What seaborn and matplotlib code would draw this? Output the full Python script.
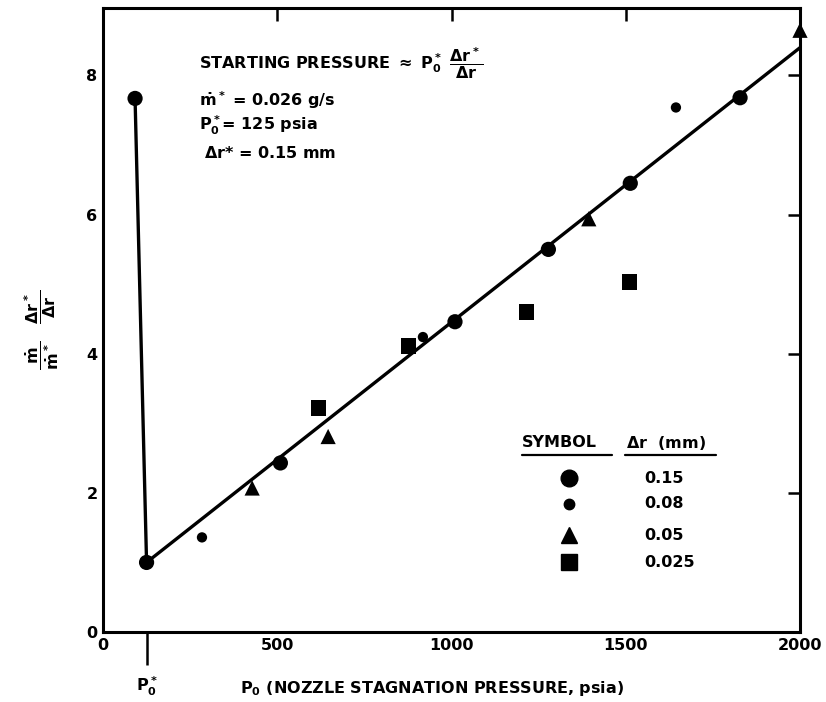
import matplotlib
matplotlib.use("Agg")
import matplotlib.pyplot as plt
import seaborn as sns
import pandas as pd
import numpy as np
from matplotlib import font_manager

# ---------------- data ----------------
dr_labels = ["0.15", "0.08", "0.05", "0.025"]

p0_015 = [92, 125, 509, 1010, 1278, 1513, 1828]
r_015 = [7.67, 1.0, 2.43, 4.46, 5.50, 6.45, 7.68]

p0_008 = [284, 918, 1644]
r_008 = [1.36, 4.24, 7.54]

p0_005 = [428, 646, 1394, 2000]
r_005 = [2.07, 2.81, 5.94, 8.65]

p0_0025 = [618, 877, 1216, 1510]
r_0025 = [3.22, 4.11, 4.60, 5.03]

fit_x = [92, 125, 2000]
fit_y = [7.67, 1.0, 8.4]

x_ticks = [0, 500, 1000, 1500, 2000]
y_ticks = [0, 2, 4, 6, 8]
P0_star = 125

# ---------------- style ----------------
sns.set_style("white")
try:
    font_manager.findfont("Liberation Sans Narrow", fallback_to_default=False)
    FAM = "Liberation Sans Narrow"
except Exception:
    FAM = "DejaVu Sans"
plt.rcParams["font.family"] = [FAM, "DejaVu Sans"]
plt.rcParams["font.weight"] = "bold"
plt.rcParams["text.color"] = "black"
plt.rcParams["axes.labelcolor"] = "black"
plt.rcParams["xtick.color"] = "black"
plt.rcParams["ytick.color"] = "black"
plt.rcParams["mathtext.fontset"] = "custom"
plt.rcParams["mathtext.rm"] = f"{FAM}:bold"
plt.rcParams["mathtext.it"] = f"{FAM}:bold"
plt.rcParams["mathtext.bf"] = f"{FAM}:bold"
plt.rcParams["mathtext.sf"] = f"{FAM}:bold"

FS = 13 if FAM != "DejaVu Sans" else 11.5

df = pd.concat([
    pd.DataFrame({"P0": p0_015, "ratio": r_015, "dr": dr_labels[0]}),
    pd.DataFrame({"P0": p0_008, "ratio": r_008, "dr": dr_labels[1]}),
    pd.DataFrame({"P0": p0_005, "ratio": r_005, "dr": dr_labels[2]}),
    pd.DataFrame({"P0": p0_0025, "ratio": r_0025, "dr": dr_labels[3]}),
], ignore_index=True)

markers = {"0.15": "o", "0.08": "o", "0.05": "^", "0.025": "s"}
sizes = {"0.15": 120, "0.08": 55, "0.05": 120, "0.025": 120}

fig = plt.figure(figsize=(8.26, 7.02), dpi=100)
ax = fig.add_axes([103 / 826, 1 - 632 / 702, (800 - 103) / 826, (632 - 8) / 702])

sns.lineplot(x=fit_x, y=fit_y, sort=False, estimator=None, color="black",
             linewidth=2.4, ax=ax, zorder=2)
sns.scatterplot(data=df, x="P0", y="ratio", style="dr", markers=markers,
                size="dr", sizes=sizes, color="black", edgecolor="black",
                linewidth=0, legend=False, ax=ax, zorder=3, clip_on=False)

ax.set_xlim(0, 2000)
ax.set_ylim(0, 8.97)
ax.set_xticks(x_ticks)
ax.set_yticks(y_ticks)
ax.set_xticklabels([str(v) for v in x_ticks], fontsize=FS, fontweight="bold")
ax.set_yticklabels([str(v) for v in y_ticks], fontsize=FS, fontweight="bold")
ax.tick_params(direction="in", length=9, width=1.8, top=True, right=True,
               labeltop=False, labelright=False, pad=4, colors="black")
for s in ax.spines.values():
    s.set_visible(True)
    s.set_linewidth(2.2)
    s.set_color("black")
ax.set_xlabel("")
ax.set_ylabel("")

# P0* tick below the axis
ax.vlines(P0_star, -0.48, 0, color="black", linewidth=1.8, clip_on=False)
ax.text(P0_star, -0.78, r"P$_0^*$", ha="center", va="center", fontsize=FS)

# axis labels
fig.text(240 / 826, 1 - 688 / 702, r"P$_0$ (NOZZLE STAGNATION PRESSURE, psia)",
         ha="left", va="center", fontsize=FS)
fig.text(42 / 826, 1 - 330 / 702,
         r"$\dfrac{\dot{m}}{\dot{m}^*}$   $\dfrac{\Delta r^*}{\Delta r}$",
         rotation=90, ha="center", va="center", fontsize=FS)

# annotation text
ax.text(275, 8.17, r"STARTING PRESSURE $\approx$ P$_0^*$ $\dfrac{\Delta r^*}{\Delta r}$",
        ha="left", va="center", fontsize=FS)
ax.text(275, 7.64, r"$\dot{m}^*$ = 0.026 g/s", ha="left", va="center", fontsize=FS)
ax.text(275, 7.28, r"P$_0^*$= 125 psia", ha="left", va="center", fontsize=FS)
ax.text(290, 6.88, r"$\Delta$r* = 0.15 mm", ha="left", va="center", fontsize=FS)

# manual legend
ax.text(1202, 2.72, "SYMBOL", ha="left", va="center", fontsize=FS)
ax.text(1500, 2.72, r"$\Delta$r  (mm)", ha="left", va="center", fontsize=FS)
ax.plot([1202, 1460], [2.54, 2.54], color="black", lw=1.6)
ax.plot([1497, 1760], [2.54, 2.54], color="black", lw=1.6)
leg_y = [2.21, 1.84, 1.39, 1.0]
leg_ms = {"0.15": 12, "0.08": 7.5, "0.05": 11, "0.025": 11}
for lab, yy in zip(dr_labels, leg_y):
    ax.plot([1338], [yy], marker=markers[lab], markersize=leg_ms[lab],
            color="black", linestyle="none")
    ax.text(1552, yy, lab, ha="left", va="center", fontsize=FS)

fig.savefig("out.png", dpi=100, facecolor="white")
